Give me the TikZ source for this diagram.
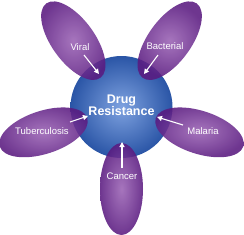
\documentclass[tikz,border=0pt]{standalone}
\usepackage{fontspec}
\setmainfont{Liberation Sans}
\usetikzlibrary{arrows.meta}
\definecolor{petalin}{HTML}{9A62B4}
\definecolor{petalout}{HTML}{5A1A80}
\definecolor{ballin}{HTML}{7EA2E0}
\definecolor{ballout}{HTML}{2A55A6}
\tikzset{
  petal/.style={draw=none, inner color=petalin, outer color=petalout, fill opacity=0.88},
  lbl/.style={text=white, font=\fontsize{9.5}{11}\selectfont, inner sep=1pt},
  arr/.style={draw=white, line width=1.1pt, -{Triangle[width=5pt,length=5pt]}},
}
\begin{document}
\begin{tikzpicture}[x=1pt,y=1pt]
\useasboundingbox (0,0) rectangle (244,234);
\coordinate (c) at (121.5,127);
% central ball
\shade[inner color=ballin, outer color=ballout] (c) circle (51);
% petals
\foreach \a in {270,-18,54,126,198}{
  \path[petal, shift={(c)}, rotate=\a] (82,0) ellipse (46 and 21.5);
}
\node[text=white, font=\fontsize{12.5}{12}\bfseries\selectfont, align=center] (dr) at (121.5,129) {Drug\\Resistance};
\node[lbl] (viral) at (80,187) {Viral};
\node[lbl] (bact) at (165,188) {Bacterial};
\node[lbl] (tb) at (42,103) {Tuberculosis};
\node[lbl] (mal) at (203,103) {Malaria};
\node[lbl] (can) at (122,58) {Cancer};
\coordinate (v0) at (84,179); \coordinate (v1) at (99,160);
\coordinate (b0) at (158,179); \coordinate (b1) at (144,160);
\coordinate (t0) at (70,112); \coordinate (t1) at (88,118);
\coordinate (m0) at (183,109); \coordinate (m1) at (157,117);
\coordinate (c0) at (122,66); \coordinate (c1) at (122,92);
\draw[arr] (v0) -- (v1);
\draw[arr] (b0) -- (b1);
\draw[arr] (t0) -- (t1);
\draw[arr] (m0) -- (m1);
\draw[arr] (c0) -- (c1);
\end{tikzpicture}
\end{document}
